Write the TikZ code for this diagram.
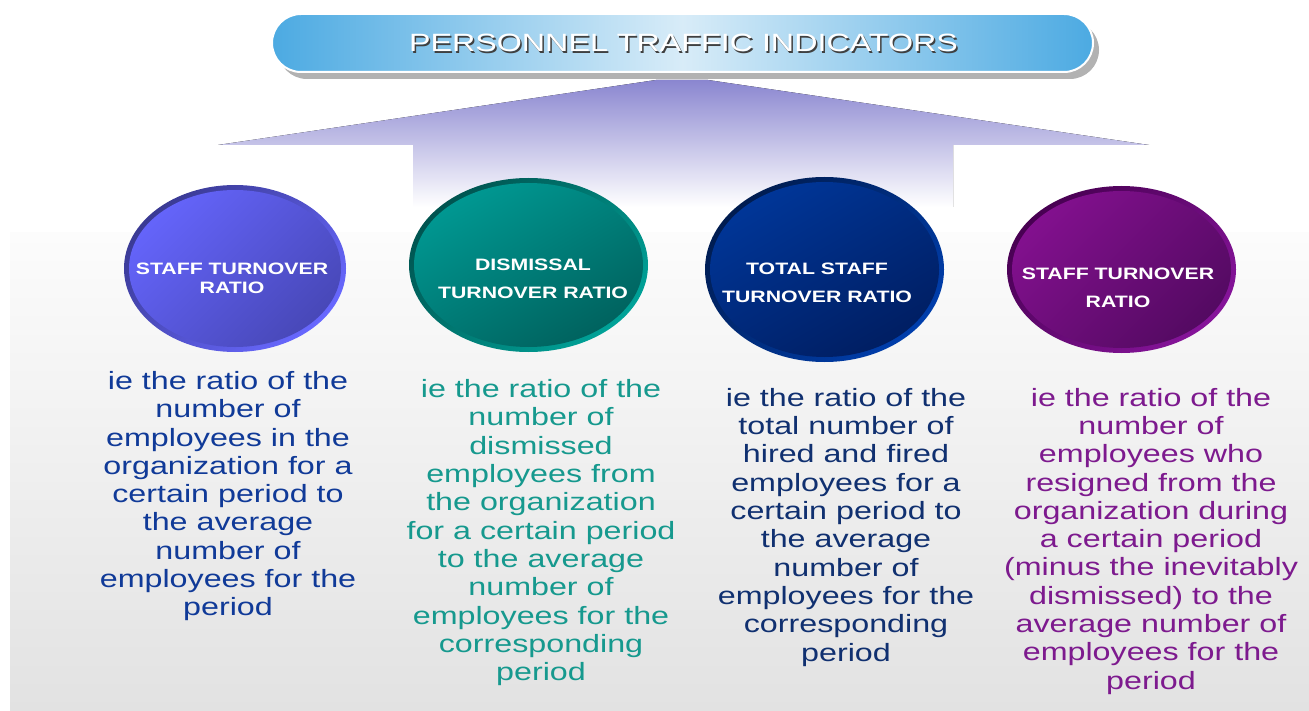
\documentclass[tikz,border=0pt]{standalone}
\usepackage{fontspec}
\setmainfont{Liberation Sans}
\usepackage{graphicx}
\usetikzlibrary{shapes.geometric}
\definecolor{pillEdge}{RGB}{76,170,226}
\definecolor{pillMid}{RGB}{216,236,248}
\definecolor{arrowTop}{RGB}{138,134,208}
\definecolor{bgTop}{RGB}{252,252,252}
\definecolor{bgBottom}{RGB}{226,226,226}
\definecolor{txtA}{RGB}{16,58,152}
\definecolor{txtB}{RGB}{22,153,142}
\definecolor{txtC}{RGB}{16,48,112}
\definecolor{txtD}{RGB}{125,26,142}
% ellipse colours: main light, main dark, ring dark, ring light
\definecolor{aMl}{RGB}{100,100,250}\definecolor{aMd}{RGB}{72,72,184}
\definecolor{aRd}{RGB}{58,58,148}\definecolor{aRl}{RGB}{104,104,255}
\definecolor{bMl}{RGB}{0,152,146}\definecolor{bMd}{RGB}{0,98,94}
\definecolor{bRd}{RGB}{0,84,80}\definecolor{bRl}{RGB}{0,162,152}
\definecolor{cMl}{RGB}{0,54,152}\definecolor{cMd}{RGB}{0,30,98}
\definecolor{cRd}{RGB}{0,28,80}\definecolor{cRl}{RGB}{0,62,172}
\definecolor{dMl}{RGB}{130,16,142}\definecolor{dMd}{RGB}{84,10,98}
\definecolor{dRd}{RGB}{72,0,82}\definecolor{dRl}{RGB}{134,20,154}
\newcommand\hstretch[1]{\scalebox{1.29}[1]{\begin{tabular}{@{}c@{}}#1\end{tabular}}}
\begin{document}
\begin{tikzpicture}[x=1pt,y=-1pt,
  pill/.style={rectangle, rounded corners=29pt, minimum width=821pt, minimum height=58pt, inner sep=0pt},
  ring/.style={ellipse, inner sep=0pt},
  descr/.style={inner sep=0pt, font=\fontsize{25}{28.3}\selectfont},
  ringlabel/.style={inner sep=0pt, text=white},
  titletext/.style={inner sep=0pt, font=\fontsize{25}{30}\selectfont}]
\useasboundingbox (0,0) rectangle (1309,711);
% background panel
\fill[top color=bgTop, bottom color=bgBottom] (10,233) rectangle (1309,711);
% broad arrow
\fill[top color=arrowTop, bottom color=white] (218,145) -- (656,80) -- (708,80) -- (1149,145)
  -- (953,145) -- (953,207) -- (413,207) -- (413,145) -- cycle;
% title bar
\node[pill, fill=black!30] (titleshadow) at (688.5,50) {};
\node[pill, left color=pillEdge, right color=pillEdge, middle color=pillMid, draw=white, line width=2pt] (titlebar) at (682.5,43) {};
\node[titletext, text=black!75] (titleshade) at (685,47.5) {\hstretch{PERSONNEL TRAFFIC INDICATORS}};
\node[titletext, text=white] (title) at (683.5,46) {\hstretch{PERSONNEL TRAFFIC INDICATORS}};
% ellipse 1
\node[ring, minimum width=222pt, minimum height=167pt, top color=aRd, bottom color=aRl, shading angle=45] (e1ring) at (235,268.5) {};
\node[ring, minimum width=212pt, minimum height=157pt, top color=aMl, bottom color=aMd, shading angle=45] (e1) at (235,268.5) {};
\node[ringlabel, font=\bfseries\fontsize{16.5}{19}\selectfont] (e1lbl) at (232,280) {\hstretch{STAFF TURNOVER\\RATIO}};
% ellipse 2
\node[ring, minimum width=239pt, minimum height=174pt, top color=bRd, bottom color=bRl, shading angle=45] (e2ring) at (528.5,265) {};
\node[ring, minimum width=229pt, minimum height=164pt, top color=bMl, bottom color=bMd, shading angle=30] (e2) at (528.5,265) {};
\node[ringlabel, font=\bfseries\fontsize{16.5}{28}\selectfont] (e2lbl) at (533,279) {\hstretch{DISMISSAL\\TURNOVER RATIO}};
% ellipse 3
\node[ring, minimum width=239pt, minimum height=185pt, top color=cRd, bottom color=cRl, shading angle=45] (e3ring) at (824.5,269.5) {};
\node[ring, minimum width=229pt, minimum height=175pt, top color=cMl, bottom color=cMd, shading angle=30] (e3) at (824.5,269.5) {};
\node[ringlabel, font=\bfseries\fontsize{16.5}{28}\selectfont] (e3lbl) at (817,283) {\hstretch{TOTAL STAFF\\TURNOVER RATIO}};
% ellipse 4
\node[ring, minimum width=229pt, minimum height=167pt, top color=dRd, bottom color=dRl, shading angle=45] (e4ring) at (1121.5,269.5) {};
\node[ring, minimum width=219pt, minimum height=157pt, top color=dMl, bottom color=dMd, shading angle=45] (e4) at (1121.5,269.5) {};
\node[ringlabel, font=\bfseries\fontsize{16.5}{28}\selectfont] (e4lbl) at (1118,288) {\hstretch{STAFF TURNOVER\\RATIO}};
% descriptions
\node[descr, text=txtA] (d1) at (228,497) {\hstretch{ie the ratio of the\\number of\\employees in the\\organization for a\\certain period to\\the average\\number of\\employees for the\\period}};
\node[descr, text=txtB] (d2) at (541,533.5) {\hstretch{ie the ratio of the\\number of\\dismissed\\employees from\\the organization\\for a certain period\\to the average\\number of\\employees for the\\corresponding\\period}};
\node[descr, text=txtC] (d3) at (846,528) {\hstretch{ie the ratio of the\\total number of\\hired and fired\\employees for a\\certain period to\\the average\\number of\\employees for the\\corresponding\\period}};
\node[descr, text=txtD] (d4) at (1151,542) {\hstretch{ie the ratio of the\\number of\\employees who\\resigned from the\\organization during\\a certain period\\(minus the inevitably\\dismissed) to the\\average number of\\employees for the\\period}};
\end{tikzpicture}
\end{document}
